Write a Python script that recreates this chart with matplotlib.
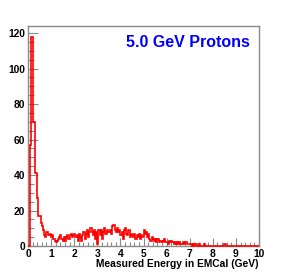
import numpy as np
import matplotlib
matplotlib.use("Agg")
import matplotlib.pyplot as plt
from matplotlib.ticker import MultipleLocator

# Histogram: 200 bins of 0.05 GeV from 0 to 10 GeV
x_min, x_max, n_bins = 0.0, 10.0, 200
counts = [
    # 0.00 - 0.95
    0, 0, 57, 118, 70, 70, 41, 41, 27, 17, 17, 13, 11, 9, 6, 5, 8, 6, 6, 7,
    # 1.00 - 1.95
    5, 6, 4, 3, 2, 3, 4, 5, 6, 4, 3, 5, 3, 5, 6, 4, 6, 7, 5, 6,
    # 2.00 - 2.95
    7, 5, 6, 3, 7, 5, 3, 6, 8, 4, 7, 9, 5, 8, 10, 8, 6, 9, 4, 8,
    # 3.00 - 3.95
    1, 9, 6, 9, 4, 8, 10, 7, 9, 8, 8, 9, 7, 11, 12, 9, 8, 10, 8, 9,
    # 4.00 - 4.95
    6, 8, 4, 9, 10, 7, 6, 9, 5, 7, 6, 5, 7, 4, 6, 5, 7, 4, 6, 5,
    # 5.00 - 5.95
    9, 7, 8, 5, 7, 4, 3, 5, 4, 3, 4, 2, 4, 2, 3, 3, 2, 3, 4, 2,
    # 6.00 - 6.95
    2, 1, 3, 2, 3, 2, 1, 2, 1, 2, 1, 2, 1, 1, 2, 1, 2, 2, 1, 1,
    # 7.00 - 7.95
    1, 1, 0, 1, 0, 1, 0, 0, 1, 0, 0, 0, 1, 0, 0, 0, 0, 0, 0, 0,
    # 8.00 - 8.95
    0, 0, 0, 0, 0, 0, 0, 0, 0, 0, 1, 0, 0, 0, 0, 0, 0, 0, 0, 0,
    # 9.00 - 9.95
    0, 0, 0, 0, 0, 0, 0, 0, 0, 0, 0, 0, 0, 0, 0, 0, 0, 0, 0, 0,
]
x_ticks = [0, 1, 2, 3, 4, 5, 6, 7, 8, 9, 10]
y_ticks = [0, 20, 40, 60, 80, 100, 120]
title_text = "5.0 GeV Protons"
xlabel_text = "Measured Energy in EMCal (GeV)"

edges = np.linspace(x_min, x_max, n_bins + 1)

fig = plt.figure(figsize=(2.87, 2.73), dpi=100)
ax = fig.add_axes([28 / 287, 27 / 273, 231 / 287, 220 / 273])

ax.stairs(counts, edges, color="#ff0000", lw=1.2, clip_on=False, zorder=3)

ax.set_xlim(x_min, x_max)
ax.set_ylim(0, 124)

frame_col = "#8a8a8a"
for s in ax.spines.values():
    s.set_color(frame_col)
    s.set_linewidth(1.0)

ax.set_xticks(x_ticks)
ax.set_yticks(y_ticks)
ax.xaxis.set_minor_locator(MultipleLocator(0.2))
ax.yaxis.set_minor_locator(MultipleLocator(5))
ax.tick_params(axis="both", which="major", direction="in", color=frame_col,
               width=0.8, labelsize=7.4, pad=2)
ax.tick_params(axis="x", which="major", length=6)
ax.tick_params(axis="y", which="major", length=7)
ax.tick_params(axis="x", which="minor", direction="in", color=frame_col,
               width=0.8, length=3)
ax.tick_params(axis="y", which="minor", direction="in", color=frame_col,
               width=0.8, length=4)
ax.tick_params(top=False, right=False, which="both")
for lab in ax.get_xticklabels() + ax.get_yticklabels():
    lab.set_fontweight("bold")
    lab.set_fontfamily("Liberation Sans")

ax.text(0.96, 0.905, title_text, transform=ax.transAxes, ha="right",
        va="baseline", color="#0000ff", fontsize=11.5, fontweight="bold",
        fontfamily="Liberation Sans")

fig.text(259 / 287, 6 / 273, xlabel_text, ha="right", va="baseline",
         fontsize=7.4, fontweight="bold", fontfamily="Liberation Sans")

fig.savefig("out.png", dpi=100)
